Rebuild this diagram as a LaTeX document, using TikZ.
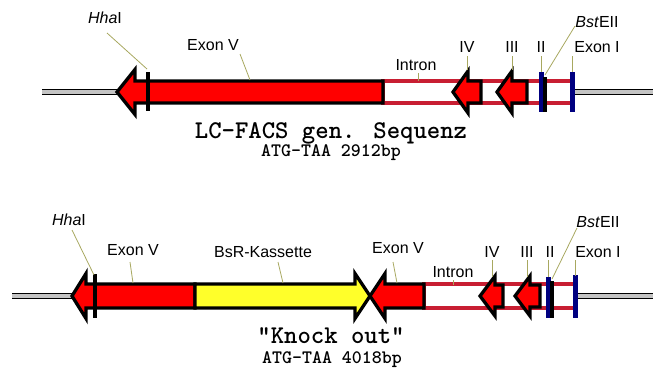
\documentclass[tikz,border=0pt]{standalone}
\usepackage{fontspec}
\setmainfont{Liberation Sans}
\definecolor{exonred}{HTML}{FF0000}
\definecolor{intronred}{HTML}{C81E32}
\definecolor{navybar}{HTML}{000080}
\definecolor{leadercol}{HTML}{A8A860}
\definecolor{cassettecol}{HTML}{FFFF2A}
\definecolor{dnagray}{HTML}{C4C4C4}
\tikzset{
  exonarrow/.style={fill=exonred, draw=black, line width=3.3pt, line join=miter},
  cassettearrow/.style={fill=cassettecol, draw=black, line width=3.3pt, line join=miter},
  intronbox/.style={fill=white, draw=intronred, line width=3.3pt},
  sitebar/.style={draw=black, line width=3.5pt},
  exonbar/.style={draw=navybar, line width=5pt},
  dnaline/.style={draw=black, line width=1pt, double=dnagray, double distance=3.5pt},
  lbl/.style={font=\fontsize{16}{18}\selectfont, inner sep=0pt},
  leaderline/.style={draw=leadercol, line width=0.8pt},
  bigtitle/.style={font=\ttfamily\bfseries\fontsize{25.5}{27}\selectfont, inner sep=0pt},
  subtitle/.style={font=\ttfamily\bfseries\fontsize{19}{21}\selectfont, inner sep=0pt},
}
\begin{document}
\begin{tikzpicture}[x=1pt, y=-1pt]
\useasboundingbox (0,0) rectangle (653,367);

% ---------------- wild-type gene ----------------
\coordinate (wL) at (42,92);
\coordinate (wLtip) at (118,92);
\coordinate (wRbar) at (572,92);
\coordinate (wR) at (653,92);
\draw[dnaline] (wL) -- (wLtip);
\draw[dnaline] (wRbar) -- (wR);

% intron frame behind exons II-IV
\draw[intronbox] (383,81) rectangle (572,103);

% exon V
\draw[exonarrow] (117,92) -- (135,69.5) -- (135,81) -- (383,81) -- (383,103)
  -- (135,103) -- (135,114.5) -- cycle;
% exon IV
\draw[exonarrow] (453,92) -- (468,71) -- (468,81) -- (481,81) -- (481,103)
  -- (468,103) -- (468,113) -- cycle;
% exon III
\draw[exonarrow] (497,92) -- (512,71) -- (512,81) -- (527,81) -- (527,103)
  -- (512,103) -- (512,113) -- cycle;

% restriction sites and short exons
\draw[sitebar] (148,72) -- (148,111);
\draw[exonbar] (541,72) -- (541,112);
\draw[sitebar] (545,77) -- (545,112);
\draw[exonbar] (572,72) -- (572,112);

% labels
\node[lbl] (wHha) at (105,18) {\textit{Hha}I};
\node[lbl] (wEx5) at (213,45) {Exon V};
\node[lbl] (wIntron) at (416,65) {Intron};
\node[lbl] (wEx4) at (467,47) {IV};
\node[lbl] (wEx3) at (512,47) {III};
\node[lbl] (wEx2) at (541,47) {II};
\node[lbl] (wBst) at (597,22) {\textit{Bst}EII};
\node[lbl] (wEx1) at (597,47) {Exon I};

\coordinate (wHhaP) at (147,69);
\coordinate (wEx5P) at (250,80);
\coordinate (wIntronP) at (418,81);
\coordinate (wEx4P) at (467,70);
\coordinate (wEx3P) at (512,70);
\coordinate (wEx2P) at (541,72);
\coordinate (wBstP) at (545,75);
\coordinate (wEx1P) at (572,72);

\draw[leaderline] (107,33) -- (wHhaP);
\draw[leaderline] (240,54) -- (wEx5P);
\draw[leaderline] (418,73) -- (wIntronP);
\draw[leaderline] (467,56) -- (wEx4P);
\draw[leaderline] (512,56) -- (wEx3P);
\draw[leaderline] (541,56) -- (wEx2P);
\draw[leaderline] (575,26) -- (wBstP);
\draw[leaderline] (572,56) -- (wEx1P);

\node[bigtitle] (wTitle) at (331,133) {LC-FACS gen. Sequenz};
\node[subtitle] (wSize) at (331,153) {ATG-TAA 2912bp};

% ---------------- knock-out construct ----------------
\coordinate (kL) at (12,296);
\coordinate (kLtip) at (73,296);
\coordinate (kRbar) at (575,296);
\coordinate (kR) at (653,296);
\draw[dnaline] (kL) -- (kLtip);
\draw[dnaline] (kRbar) -- (kR);

\draw[intronbox] (424,284) rectangle (575,308);

% exon V, 5' part
\draw[exonarrow] (72,296) -- (86,273.5) -- (86,284) -- (195,284) -- (195,308)
  -- (86,308) -- (86,318.5) -- cycle;
% resistance cassette
\draw[cassettearrow] (195,284) -- (355,284) -- (355,273.5) -- (370,296)
  -- (355,318.5) -- (355,308) -- (195,308) -- cycle;
% exon V, 3' part
\draw[exonarrow] (370,296) -- (385,273.5) -- (385,284) -- (424,284) -- (424,308)
  -- (385,308) -- (385,318.5) -- cycle;
% exon IV
\draw[exonarrow] (480,296) -- (495,276) -- (495,285) -- (503,285) -- (503,307)
  -- (495,307) -- (495,316) -- cycle;
% exon III
\draw[exonarrow] (515,296) -- (530,276) -- (530,285) -- (540,285) -- (540,307)
  -- (530,307) -- (530,316) -- cycle;

\draw[sitebar] (95,274) -- (95,318);
\draw[exonbar] (548,277) -- (548,318);
\draw[sitebar] (552,281) -- (552,318);
\draw[exonbar] (575,275) -- (575,318);

\node[lbl] (kHha) at (69,220) {\textit{Hha}I};
\node[lbl] (kEx5a) at (133,250) {Exon V};
\node[lbl] (kBsr) at (263,252) {BsR-Kassette};
\node[lbl] (kEx5b) at (398,248) {Exon V};
\node[lbl] (kIntron) at (453,272) {Intron};
\node[lbl] (kEx4) at (492,252) {IV};
\node[lbl] (kEx3) at (527,252) {III};
\node[lbl] (kEx2) at (550,252) {II};
\node[lbl] (kBst) at (598,222) {\textit{Bst}EII};
\node[lbl] (kEx1) at (598,252) {Exon I};

\coordinate (kHhaP) at (94,275);
\coordinate (kEx5aP) at (133,283);
\coordinate (kBsrP) at (283,283);
\coordinate (kEx5bP) at (397,283);
\coordinate (kIntronP) at (453,285);
\coordinate (kEx4P) at (492,277);
\coordinate (kEx3P) at (527,277);
\coordinate (kEx2P) at (548,277);
\coordinate (kBstP) at (552,279);
\coordinate (kEx1P) at (575,276);

\draw[leaderline] (72,230) -- (kHhaP);
\draw[leaderline] (130,262) -- (kEx5aP);
\draw[leaderline] (278,262) -- (kBsrP);
\draw[leaderline] (393,262) -- (kEx5bP);
\draw[leaderline] (453,280) -- (kIntronP);
\draw[leaderline] (492,260) -- (kEx4P);
\draw[leaderline] (527,260) -- (kEx3P);
\draw[leaderline] (548,260) -- (kEx2P);
\draw[leaderline] (577,228) -- (kBstP);
\draw[leaderline] (575,260) -- (kEx1P);

\node[bigtitle] (kTitle) at (331,336) {"Knock out"};
\node[subtitle] (kSize) at (332,360) {ATG-TAA 4018bp};
\end{tikzpicture}
\end{document}
